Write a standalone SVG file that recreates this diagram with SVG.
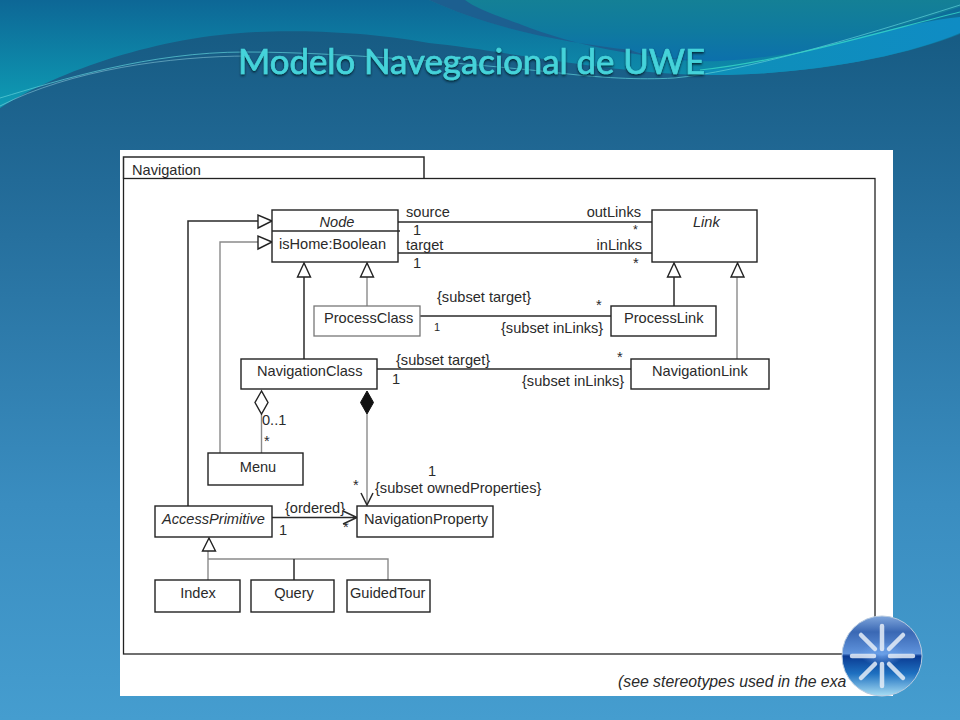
<svg xmlns="http://www.w3.org/2000/svg" width="960" height="720" viewBox="0 0 960 720">
<style>
.box{fill:#fff;stroke:#222;stroke-width:1.4}
.lbl{font-family:"Liberation Sans",Arial,sans-serif;font-size:14.6px;fill:#2a2a2a}
.mid{text-anchor:middle}
.end{text-anchor:end}
.it{font-style:italic}
.ln{fill:none;stroke:#2a2a2a;stroke-width:1.5}
.gr{fill:none;stroke:#8a8a8a;stroke-width:1.4}
.tri{fill:#fff;stroke:#222;stroke-width:1.4}
.sp{stroke:#e6eef8;stroke-width:4.500;stroke-linecap:round;opacity:.85}
</style>
<defs>
<linearGradient id="bg" x1="0" y1="0" x2="0" y2="1"><stop offset="0" stop-color="#14587f"/><stop offset=".25" stop-color="#226a97"/><stop offset=".7" stop-color="#3a8dc0"/><stop offset="1" stop-color="#459dcf"/></linearGradient>
<linearGradient id="top" x1="0" y1="0" x2="0" y2="1"><stop offset="0" stop-color="#0d6796"/><stop offset="1" stop-color="#0e9cb4"/></linearGradient>
<linearGradient id="ur" x1="0" y1="0" x2="0" y2="1"><stop offset="0" stop-color="#148096"/><stop offset=".5" stop-color="#0f7a9f"/><stop offset="1" stop-color="#0c70ac"/></linearGradient>
<linearGradient id="band" x1="0" y1="0" x2="1" y2="0"><stop offset="0" stop-color="#0e8fb8"/><stop offset="1" stop-color="#0f8cc4"/></linearGradient>
<radialGradient id="glow" cx=".5" cy=".5" r=".5"><stop offset="0" stop-color="#6aa0e8"/><stop offset="1" stop-color="#6aa0e8" stop-opacity="0"/></radialGradient>
<linearGradient id="logo" x1="0" y1="0" x2="0" y2="1"><stop offset="0" stop-color="#7fa6dc"/><stop offset=".2" stop-color="#3a68b4"/><stop offset=".47" stop-color="#5f93dc"/><stop offset=".5" stop-color="#0a3a92"/><stop offset=".72" stop-color="#1e70c0"/><stop offset="1" stop-color="#a8def4"/></linearGradient>
<filter id="sh" x="-5%" y="-20%" width="110%" height="150%"><feDropShadow dx="0" dy="1.500" stdDeviation="1" flood-color="#04202f" flood-opacity="1"/></filter>
</defs>
<rect width="960" height="720" fill="url(#bg)"/>
<path d="M0 0H960V34C900 58 800 76 704 75C600 72 500 50 429 43C370 32 300 30 257 32C160 36 60 70 0 108Z" fill="url(#top)"/>
<path d="M429 0C490 28 560 42 631 50C660 60 690 62 720 61C800 58 890 30 960 7V0Z" fill="url(#ur)"/>
<path d="M429 0C490 28 560 42 631 50C650 58 680 60 704 60C650 58 590 50 530 28C495 15 475 8 465 0Z" fill="#1c5f90"/>
<path d="M704 70C770 68 880 25 960 17V33C900 58 800 76 704 75Z" fill="url(#band)"/>
<path d="M0 98C60 80 150 52 245 52C340 52 470 64 551 72C600 78 640 80 674 78C740 72 850 40 960 5" fill="none" stroke="#5fd0d8" stroke-width="1" opacity=".7"/>
<path d="M0 106C70 70 170 56 250 56" fill="none" stroke="#9ad8e6" stroke-width="1" opacity=".5"/>
<path d="M700 70C780 62 880 32 960 12" fill="none" stroke="#38d8c8" stroke-width="1.200" opacity=".8"/>
<text x="238" y="74" textLength="467" lengthAdjust="spacingAndGlyphs" font-family="Lato,'Open Sans',sans-serif" font-size="34" fill="#45d3da" stroke="#45d3da" stroke-width=".7" filter="url(#sh)">Modelo Navegacional de UWE</text>

<rect x="120" y="150" width="773" height="546" fill="#fff"/>
<g id="frame">
<path class="ln" d="M123.500 178.500V157H424V178.500"/>
<rect x="123.500" y="178.500" width="751.500" height="475.500" fill="none" stroke="#222" stroke-width="1.300"/>
<text class="lbl" x="132" y="175">Navigation</text>
</g>

<g id="connectors">
<path class="ln" d="M398 222H652"/>
<path class="ln" d="M398 253H652"/>
<path class="ln" d="M420 316H611"/>
<path class="ln" d="M377 369H631"/>
<path class="ln" d="M188 506V221H258"/>
<path class="gr" d="M220 453V242H258"/>
<path class="ln" d="M304 277V359"/>
<path class="gr" d="M367 277V306"/>
<path class="ln" d="M674 277V306"/>
<path class="gr" d="M737 277V359"/>
<path class="gr" d="M261.500 414V453"/>
<path class="gr" d="M367 414V505"/>
<path class="ln" d="M361 493L367 505L373 493"/>
<path class="ln" d="M272 517.500H356M343 511L357 517.500L343 524"/>
<path class="gr" d="M208 551V580M208 559H388V580"/>
<path class="ln" d="M294 559V580" stroke-width="1.200"/>
<polygon class="tri" points="272,221 258,215 258,228"/>
<polygon class="tri" points="272,242 258,236 258,249"/>
<polygon class="tri" points="304,263 297.500,277 310.500,277"/>
<polygon class="tri" points="367,263 360.500,277 373.500,277"/>
<polygon class="tri" points="674,263 667.500,277 680.500,277"/>
<polygon class="tri" points="737.500,263 731,277 744,277"/>
<polygon class="tri" points="209,538 202.500,551 215.500,551"/>
<polygon class="tri" points="261.500,391 255,402.500 261.500,414 268,402.500"/>
<polygon points="367,391 360.500,402.500 367,414 373.500,402.500" fill="#111" stroke="#111"/>
<text class="lbl" x="406" y="217">source</text>
<text class="lbl" x="413" y="235">1</text>
<text class="lbl" x="406" y="250">target</text>
<text class="lbl" x="413" y="268">1</text>
<text class="lbl end" x="641" y="217">outLinks</text>
<text class="lbl" x="633" y="234" style="font-size:12.500px">*</text>
<text class="lbl end" x="642" y="250">inLinks</text>
<text class="lbl" x="633" y="268">*</text>
<text class="lbl" x="437" y="302">{subset target}</text>
<text class="lbl" x="434" y="331" style="font-size:11px">1</text>
<text class="lbl" x="596" y="310">*</text>
<text class="lbl" x="501" y="333">{subset inLinks}</text>
<text class="lbl" x="396" y="365">{subset target}</text>
<text class="lbl" x="392" y="384">1</text>
<text class="lbl" x="617" y="362">*</text>
<text class="lbl" x="522" y="386">{subset inLinks}</text>
<text class="lbl" x="262" y="425">0..1</text>
<text class="lbl" x="264" y="446">*</text>
<text class="lbl" x="428" y="476">1</text>
<text class="lbl" x="375" y="493">{subset ownedProperties}</text>
<text class="lbl" x="353" y="490">*</text>
<text class="lbl" x="285" y="513">{ordered}</text>
<text class="lbl" x="279" y="535">1</text>
<text class="lbl" x="343" y="532">*</text>
</g>

<g id="node-node"><rect class="box" x="272" y="210" width="126" height="52"/><path class="ln" d="M272 231H400"/><text class="lbl it mid" x="337" y="227">Node</text><text class="lbl" x="279" y="249">isHome:Boolean</text></g>
<g id="node-link"><rect class="box" x="652" y="210" width="105" height="52"/><text class="lbl it" x="693" y="227">Link</text></g>
<g id="node-processclass"><rect x="314" y="306" width="106" height="30" fill="#fff" stroke="#777" stroke-width="1.300"/><text class="lbl" x="324" y="323">ProcessClass</text></g>
<g id="node-processlink"><rect class="box" x="611" y="306" width="105" height="30"/><text class="lbl" x="624" y="323">ProcessLink</text></g>
<g id="node-navigationclass"><rect class="box" x="241" y="359" width="136" height="30"/><text class="lbl" x="257" y="376">NavigationClass</text></g>
<g id="node-navigationlink"><rect class="box" x="631" y="359" width="138" height="30"/><text class="lbl" x="652" y="376">NavigationLink</text></g>
<g id="node-menu"><rect class="box" x="208" y="453" width="95" height="32"/><text class="lbl mid" x="258" y="472">Menu</text></g>
<g id="node-accessprimitive"><rect class="box" x="155" y="506" width="117" height="31"/><text class="lbl it" x="162" y="524">AccessPrimitive</text></g>
<g id="node-navigationproperty"><rect class="box" x="357" y="506" width="136" height="31"/><text class="lbl" x="364" y="524">NavigationProperty</text></g>
<g id="node-index"><rect class="box" x="155" y="580" width="85" height="32"/><text class="lbl mid" x="198" y="598">Index</text></g>
<g id="node-query"><rect class="box" x="251" y="580" width="83" height="32"/><text class="lbl mid" x="294" y="598">Query</text></g>
<g id="node-guidedtour"><rect class="box" x="347" y="580" width="83" height="32"/><text class="lbl" x="350" y="598">GuidedTour</text></g>

<text class="lbl it" x="618" y="687" style="font-size:15.800px">(see stereotypes used in the exa</text>

<g id="logo">
<circle cx="882" cy="656" r="40" fill="url(#logo)" stroke="#b8cbe0" stroke-width="1"/>
<ellipse cx="882" cy="654" rx="22" ry="12" fill="url(#glow)"/>
<path class="sp" d="M882 626V649M882 664V686M852 656H874M890 656H913M861 635L875 649M889 664L903 678M903 635L889 649M875 664L861 678"/>
</g>
</svg>
